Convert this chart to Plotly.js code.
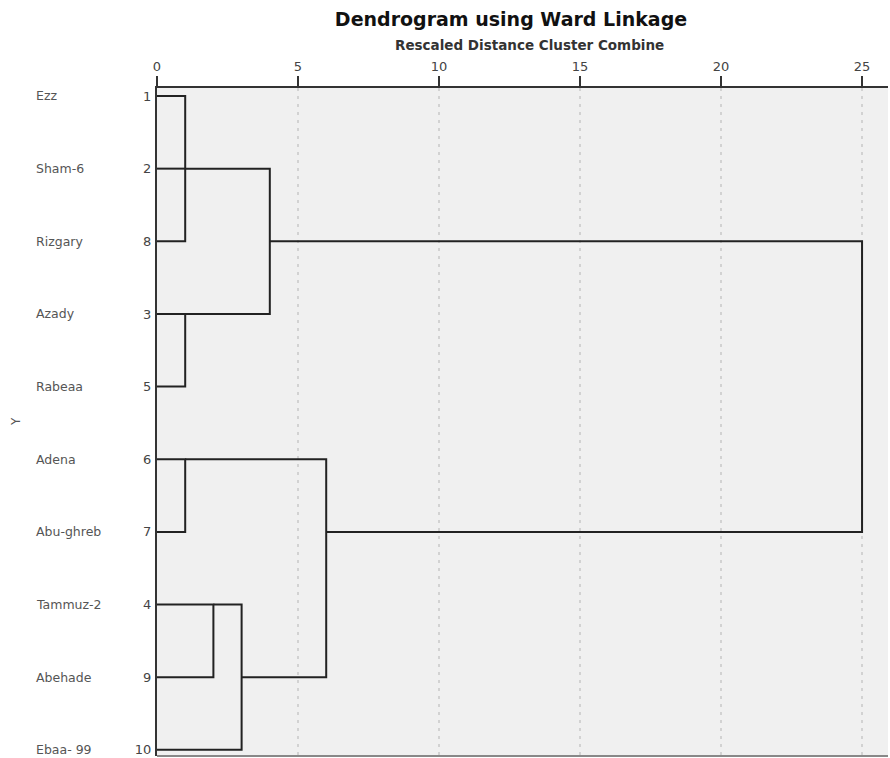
<!DOCTYPE html>
<html>
<head>
<meta charset="utf-8">
<script src="https://cdn.plot.ly/plotly-3.0.1.min.js"></script>
<style>html,body{margin:0;padding:0;background:#fff;}#chart{width:890px;height:758px;}</style>
</head>
<body>
<div id="chart"></div>
<script>
// Leaves in dendrogram order (top to bottom)
const leafNames = ["Ezz","Sham-6","Rizgary","Azady","Rabeaa","Adena","Abu-ghreb","Tammuz-2","Abehade","Ebaa- 99"];
const leafCase  = ["1","2","8","3","5","6","7","4","9","10"];
// Merges: children refer to leaf row "L#" (1..10) or earlier merge index "M#"
const mergeLeft   = ["L1","M0","L4","M1","L6","L8","M5","M4","M3"];
const mergeRight  = ["L3","L2","L5","M2","L7","L9","L10","M6","M7"];
const mergeHeight = [1, 1, 1, 4, 1, 2, 3, 6, 25];
const mergeRow    = [2, 2, 4, 3, 6, 8, 9, 7, 5];
const xTicks = [0,5,10,15,20,25];

function nodeInfo(id){
  if(id[0]==="L"){ return {row:+id.slice(1), h:0}; }
  const k = +id.slice(1);
  return {row:mergeRow[k], h:mergeHeight[k]};
}
const xs=[], ys=[];
for(let k=0;k<mergeLeft.length;k++){
  const a=nodeInfo(mergeLeft[k]), b=nodeInfo(mergeRight[k]), h=mergeHeight[k];
  xs.push(a.h,h,h,b.h,null); ys.push(a.row,a.row,b.row,b.row,null);
}
const rows = leafNames.map((_,i)=>i+1);
const FONT = 'DejaVu Sans, Verdana, sans-serif';

const annotations = leafNames.map((n,i)=>({
  xref:'paper', yref:'y', x:(34-157)/731, y:rows[i], xanchor:'left', yanchor:'middle',
  text:n, showarrow:false, font:{family:FONT, size:12.5, color:'#555'}
}));
annotations.push({xref:'paper', yref:'paper', x:(16-157)/731, y:0.5, text:'Y', textangle:-90, showarrow:false,
  xanchor:'center', yanchor:'middle', font:{family:FONT, size:12, color:'#555'}});
annotations.push({xref:'paper', yref:'paper', x:(529-157)/731, y:1+(88-45)/668, text:'<b>Rescaled Distance Cluster Combine</b>',
  showarrow:false, xanchor:'center', yanchor:'middle', font:{family:FONT, size:13.5, color:'#333'}});

const data=[{
  type:'scatter', mode:'lines', x:xs, y:ys, hoverinfo:'skip',
  line:{color:'#222', width:2}
}];

const layout={
  width:890, height:758,
  margin:{l:157, r:2, t:88, b:2},
  paper_bgcolor:'#fff', plot_bgcolor:'#f0f0f0',
  showlegend:false,
  title:{text:'<b>Dendrogram using Ward Linkage</b>', xref:'container', yref:'container', x:511/890, y:1-19/758,
    xanchor:'center', yanchor:'middle', font:{family:FONT, size:19, color:'#111'}},
  xaxis:{side:'top', range:[0,25.92], tickvals:xTicks, ticktext:xTicks.map(String), ticks:'outside', ticklen:10, tickwidth:2, tickcolor:'#333',
    showline:true, linecolor:'#333', linewidth:2, showgrid:true, gridcolor:'#d2d2d2', griddash:'3px,5px', gridwidth:1.5, zeroline:false,
    tickfont:{family:FONT, size:13, color:'#444'}, fixedrange:true},
  yaxis:{range:[10.085, 0.89], tickvals:rows, ticktext:leafCase, ticks:'', showline:true, linecolor:'#333', linewidth:2,
    showgrid:false, zeroline:false, ticklabelstandoff:1,
    tickfont:{family:FONT, size:13, color:'#444'}, fixedrange:true},
  shapes:[{type:'line', xref:'paper', yref:'paper', x0:0, x1:1, y0:0, y1:0, line:{color:'#888', width:2}}],
  annotations:annotations
};
Plotly.newPlot('chart', data, layout, {displayModeBar:false, staticPlot:true});
</script>
</body>
</html>
